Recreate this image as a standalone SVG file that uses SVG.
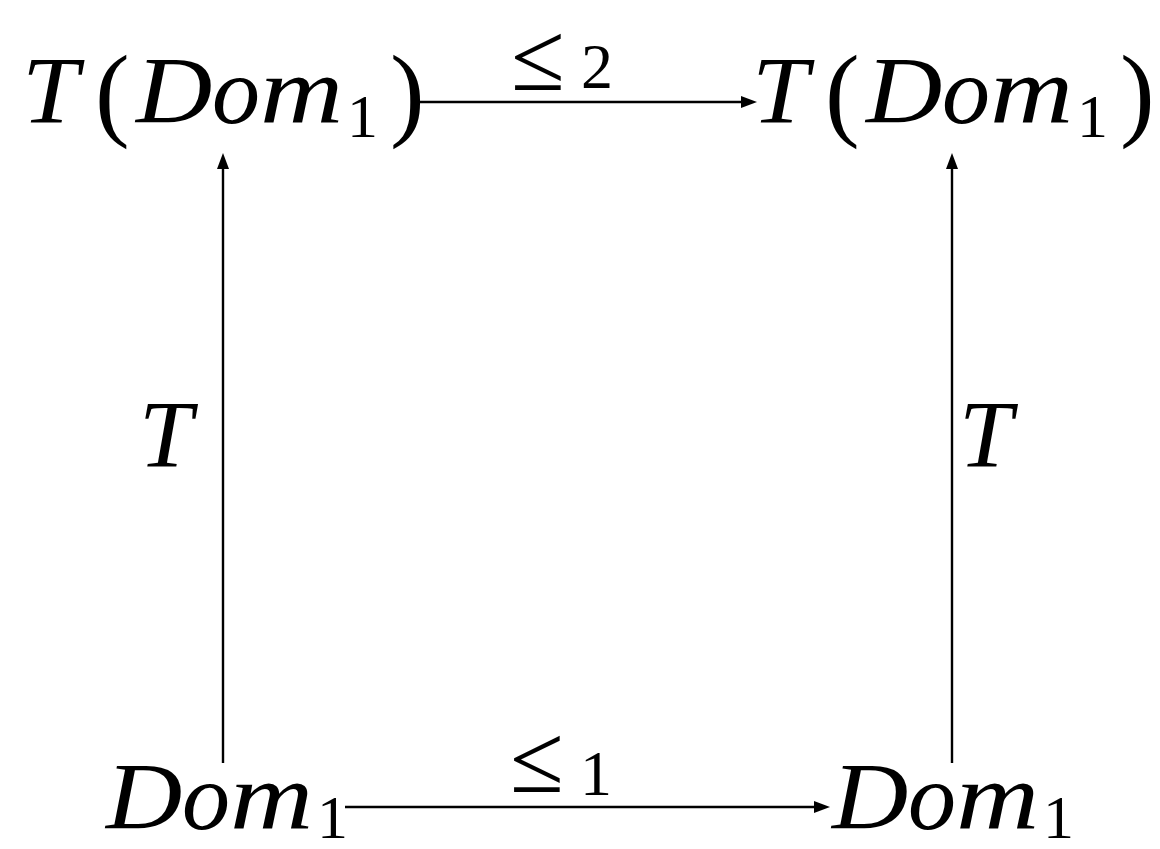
<svg xmlns="http://www.w3.org/2000/svg" width="1160" height="849" viewBox="0 0 1160 849">
<defs>
<marker id="ah" markerUnits="userSpaceOnUse" markerWidth="18" markerHeight="14" refX="6" refY="6" orient="auto">
<path d="M0,0 L16,6 L0,12 z" fill="#000"/>
</marker>
<style>
.m{font-family:"Liberation Serif","Times New Roman",serif;font-size:96px;font-style:italic;fill:#000}
.p{font-family:"Liberation Serif","Times New Roman",serif;font-size:104px;font-style:normal;fill:#000}
.s{font-family:"Liberation Serif","Times New Roman",serif;font-size:62px;font-style:normal;fill:#000}
.le{font-family:"Liberation Serif","Times New Roman",serif;font-size:98px;fill:#000}
.ls{font-family:"Liberation Serif","Times New Roman",serif;font-size:64px;fill:#000}
.c{stroke:#000;stroke-width:2.4;fill:none;marker-end:url(#ah)}
</style>
</defs>
<rect width="1160" height="849" fill="#fff"/>
<g id="connectors">
<line class="c" x1="418" y1="102" x2="747" y2="102"/>
<line class="c" x1="345" y1="807" x2="820" y2="807"/>
<line class="c" x1="223" y1="763" x2="223" y2="163"/>
<line class="c" x1="952" y1="763" x2="952" y2="163"/>
<g id="label-le2"><text class="le" x="511" y="90">≤</text><text class="ls" x="581" y="88">2</text></g>
<g id="label-le1"><text class="le" x="510" y="792">≤</text><text class="ls" x="580" y="795">1</text></g>
<g id="label-T-left"><text class="m" x="139" y="467">T</text></g>
<g id="label-T-right"><text class="m" x="959" y="467">T</text></g>
</g>
<g id="node-TDom1-left">
<text class="m" transform="translate(22,123) scale(1.06,1)">T</text>
<text class="p" x="95" y="127">(</text>
<text class="m" transform="translate(136,123) scale(1.1,1)">D</text>
<text class="m" x="212" y="123">o</text>
<text class="m" transform="translate(260,123) scale(1.2,1)">m</text>
<text class="s" x="347" y="137">1</text>
<text class="p" x="390" y="127">)</text>
</g>
<g id="node-TDom1-right">
<text class="m" transform="translate(752,123) scale(1.06,1)">T</text>
<text class="p" x="825" y="127">(</text>
<text class="m" transform="translate(866,123) scale(1.1,1)">D</text>
<text class="m" x="942" y="123">o</text>
<text class="m" transform="translate(990,123) scale(1.2,1)">m</text>
<text class="s" x="1077" y="137">1</text>
<text class="p" x="1120" y="127">)</text>
</g>
<g id="node-Dom1-left">
<text class="m" transform="translate(106,829) scale(1.1,1)">D</text>
<text class="m" x="182" y="829">o</text>
<text class="m" transform="translate(230,829) scale(1.2,1)">m</text>
<text class="s" x="317" y="838">1</text>
</g>
<g id="node-Dom1-right">
<text class="m" transform="translate(832,829) scale(1.1,1)">D</text>
<text class="m" x="908" y="829">o</text>
<text class="m" transform="translate(956,829) scale(1.2,1)">m</text>
<text class="s" x="1043" y="838">1</text>
</g>
</svg>
